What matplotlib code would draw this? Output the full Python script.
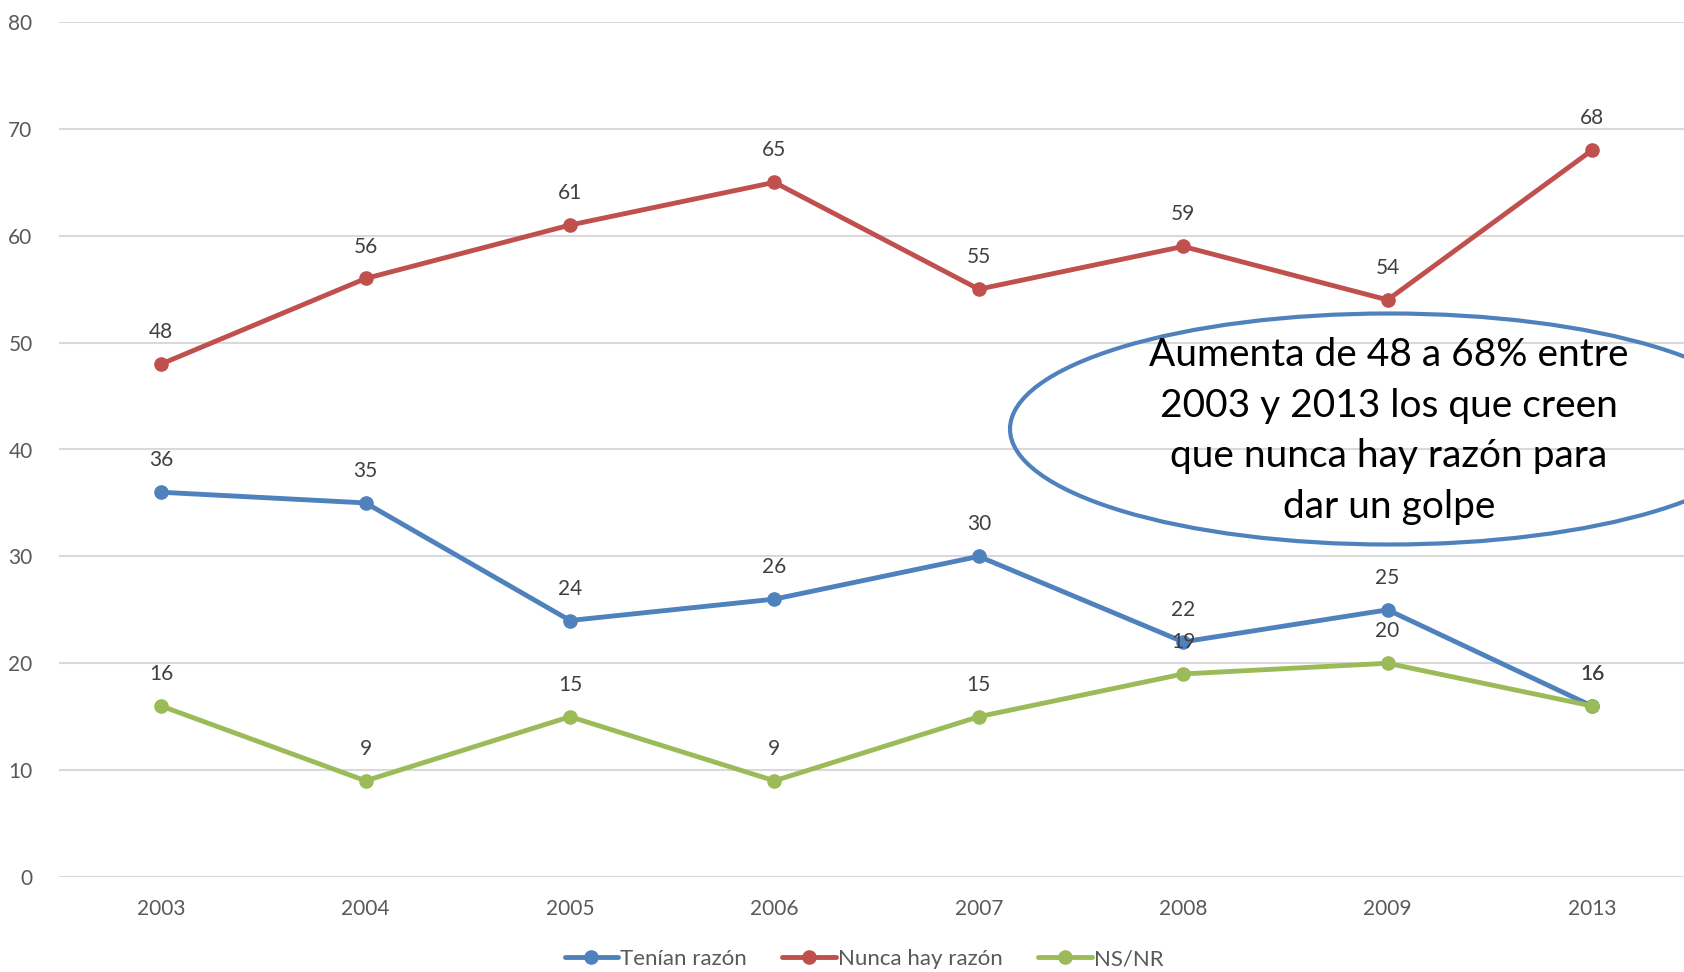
import matplotlib.pyplot as plt
from matplotlib.patches import Ellipse

years = ['2003', '2004', '2005', '2006', '2007', '2008', '2009', '2013']
tenian = [36, 35, 24, 26, 30, 22, 25, 16]
nunca = [48, 56, 61, 65, 55, 59, 54, 68]
nsnr = [16, 9, 15, 9, 15, 19, 20, 16]

series = [('Tenían razón', tenian, '#4F81BD'),
          ('Nunca hay razón', nunca, '#C0504D'),
          ('NS/NR', nsnr, '#9BBB59')]

plt.rcParams['font.family'] = ['Lato', 'DejaVu Sans']

W, H = 1684, 972
fig = plt.figure(figsize=(W / 100, H / 100), dpi=100)
ax = fig.add_axes([59 / W, 95 / H, (W - 59) / W, 855 / H])

x = list(range(len(years)))
for name, vals, col in series:
    ax.plot(x, vals, color=col, lw=3.5, marker='o', ms=9.5, label=name,
            solid_capstyle='round', clip_on=False)
    for xi, v in zip(x, vals):
        ax.annotate(str(v), (xi, v), xytext=(0, 23), textcoords='offset points',
                    ha='center', va='center', fontsize=15, color='#404040')

ax.set_xlim(-0.5, 7.45)
ax.set_ylim(0, 80)
ax.set_yticks(range(0, 81, 10))
ax.set_xticks(x)
ax.set_xticklabels(years)
ax.tick_params(length=0, labelsize=15, labelcolor='#595959')
ax.tick_params(axis='y', pad=19)
ax.tick_params(axis='x', pad=16)
ax.grid(axis='y', color='#D9D9D9', lw=1.5)
ax.set_axisbelow(True)
for s in ax.spines.values():
    s.set_visible(False)

# callout ellipse, in pixel coords
ell = Ellipse((1389, H - 429), 758, 231, transform=None, fill=False,
              edgecolor='#4F81BD', lw=3)
fig.patches.append(ell)
fig.text(1389 / W, 1 - 431 / H,
         'Aumenta de 48 a 68% entre\n2003 y 2013 los que creen\nque nunca hay razón para\ndar un golpe',
         ha='center', va='center', fontsize=28, color='black', linespacing=1.5)

ax.legend(loc='center', bbox_to_anchor=(864 / W, 1 - 959 / H),
          bbox_transform=fig.transFigure, ncol=3, frameon=False, fontsize=16,
          labelcolor='#595959', handlelength=2.4, handletextpad=0.1,
          columnspacing=1.6)

fig.savefig('out.png', dpi=100)
